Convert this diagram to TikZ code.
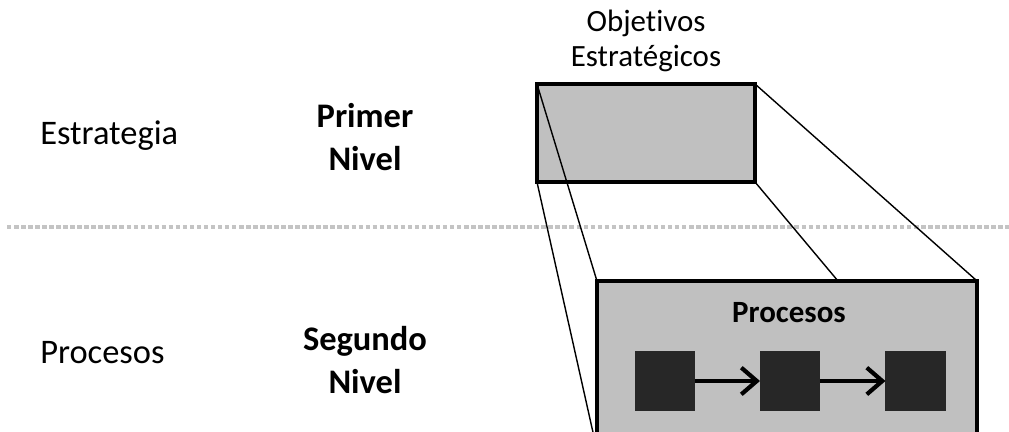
\documentclass[tikz,border=0pt]{standalone}
\usepackage{fontspec}
\setmainfont{Carlito}[Ligatures=NoCommon]
\usetikzlibrary{arrows.meta}

\definecolor{boxgray}{HTML}{C0C0C0}
\definecolor{darkbox}{HTML}{272727}
\definecolor{dashgray}{HTML}{C4C4C4}

\tikzset{
  levelbox/.style={rectangle, draw=black, line width=2.8pt, fill=boxgray, outer sep=0pt, inner sep=0pt},
  stepsq/.style={rectangle, fill=darkbox, minimum size=1.5cm, inner sep=0pt, outer sep=0pt},
  flowarrow/.style={line width=3pt, -{Straight Barb[length=11pt, width=19pt, line width=3pt]}},
  zoomline/.style={line width=1pt},
  rowlabel/.style={font=\fontsize{24.5}{28}\selectfont, inner sep=0pt},
  levellabel/.style={font=\fontsize{24.5}{30}\selectfont\bfseries, align=center, inner sep=0pt}
}

\begin{document}
\begin{tikzpicture}[x=0.025cm, y=-0.025cm]
			\useasboundingbox (0,0) rectangle (1009,432);
			\clip (0,0) rectangle (1009,432);
			
			% Separator between the two levels
			\draw[dashgray, line width=2.2pt, dash pattern=on 3.2pt off 1.8pt] (7,227) -- (1009,227);
			
			% Row labels
			\node[rowlabel, anchor=base west] (estr) at (40,145) {Estrategia};
			\node[rowlabel, anchor=base west] (proc) at (40,364) {Procesos};
			
			% Level labels
			\node[levellabel] (lvl1) at (365,137) {Primer\\Nivel};
			\node[levellabel] (lvl2) at (365,360) {Segundo\\Nivel};
			
			% Big boxes
			\node[levelbox, minimum width=5.45cm, minimum height=2.45cm] (obj) at (646,133) {};
			\node[levelbox, minimum width=9.5cm, minimum height=4.225cm] (procbox) at (787,365.5) {};
			\node[align=center, font=\fontsize{22}{25}\selectfont, inner sep=0pt] (objtxt) at (646,41) {Objetivos\\Estratégicos};
			\node[font=\fontsize{22}{26}\selectfont\bfseries, anchor=base, inner sep=0pt] (proctxt) at (789,323) {Procesos};
			
			% Zoom lines from first level to second level
			\coordinate (mid) at (838,281);
			\draw[zoomline] (obj.north west) -- (procbox.north west);
			\draw[zoomline] (obj.south west) -- (procbox.south west);
			\draw[zoomline] (obj.south east) -- (mid);
			\draw[zoomline] (obj.north east) -- (procbox.north east);
			
			% Process steps
			\node[stepsq] (s1) at (665,381) {};
			\node[stepsq] (s2) at (790,381) {};
			\node[stepsq] (s3) at (915.5,381) {};
			\draw[flowarrow] (s1) -- (s2);
			\draw[flowarrow] (s2) -- (s3);
		\end{tikzpicture}
\end{document}
